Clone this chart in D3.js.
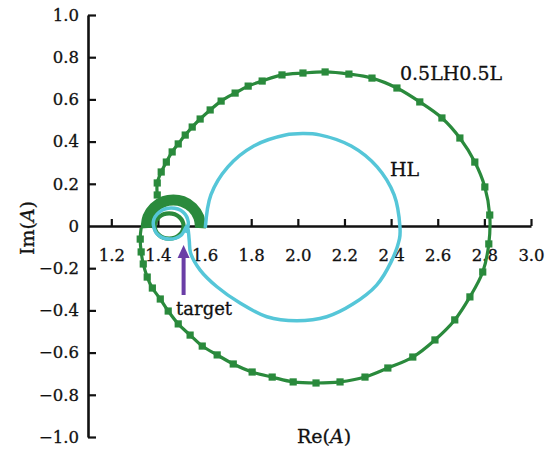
<!DOCTYPE html>
<html>
<head>
<meta charset="utf-8">
<script src="https://cdn.jsdelivr.net/npm/d3@7/dist/d3.min.js"></script>
<style>
  html, body { margin: 0; padding: 0; background: #fff; }
  svg text { font-family: "DejaVu Serif", serif; fill: #111; stroke: #111; stroke-width: 0.3px; }
</style>
</head>
<body>
<div id="chart"></div>
<script>
// ─── Data (complex-plane locus points) ───
const xTicks = [1.2, 1.4, 1.6, 1.8, 2.0, 2.2, 2.4, 2.6, 2.8, 3.0];
const yTicks = [-1.0, -0.8, -0.6, -0.4, -0.2, 0, 0.2, 0.4, 0.6, 0.8, 1.0];

// 0.5LH0.5L — large loop with square markers
const greenLoop = [
  [1.397, 0.147], [1.397, 0.204], [1.414, 0.256], [1.436, 0.303], [1.461, 0.351],
  [1.487, 0.389], [1.517, 0.431], [1.547, 0.469], [1.581, 0.507], [1.624, 0.550],
  [1.671, 0.592], [1.731, 0.630], [1.787, 0.663], [1.847, 0.687], [1.932, 0.716],
  [2.022, 0.725], [2.117, 0.730], [2.219, 0.720], [2.318, 0.701], [2.425, 0.654],
  [2.523, 0.588], [2.618, 0.512], [2.695, 0.417], [2.759, 0.303], [2.802, 0.185],
  [2.823, 0.052], [2.819, -0.085], [2.793, -0.218], [2.738, -0.336], [2.673, -0.445],
  [2.588, -0.540], [2.493, -0.621], [2.386, -0.673], [2.288, -0.716], [2.181, -0.739],
  [2.078, -0.744], [1.980, -0.739], [1.890, -0.716], [1.804, -0.692], [1.723, -0.654],
  [1.654, -0.611], [1.590, -0.569], [1.538, -0.517], [1.487, -0.464], [1.444, -0.403],
  [1.410, -0.346], [1.376, -0.294], [1.354, -0.242], [1.337, -0.180], [1.328, -0.123],
  [1.324, -0.062], [1.328, -0.009],
];
// 0.5LH0.5L — dense arc (markers overlap into a band)
const greenArc = [
  [1.350, -0.010], [1.350, 0.000], [1.357, 0.042], [1.384, 0.087], [1.426, 0.116],
  [1.466, 0.123], [1.506, 0.116], [1.548, 0.087], [1.575, 0.042], [1.582, 0.000],
  [1.582, -0.010],
];
// 0.5LH0.5L — small inner ring
const greenRing = [
  [1.510, 0.000], [1.492, 0.042], [1.448, 0.060], [1.404, 0.042],
  [1.386, 0.000], [1.404, -0.042], [1.448, -0.060], [1.492, -0.042],
];
// HL
const cyanLocus = [
  [1.521, -0.033], [1.530, 0.019], [1.508, 0.066], [1.457, 0.085], [1.406, 0.066],
  [1.380, 0.019], [1.397, -0.038], [1.448, -0.062], [1.500, -0.043], [1.525, 0.000],
  [1.534, -0.066], [1.540, -0.128], [1.581, -0.209], [1.653, -0.288], [1.752, -0.365],
  [1.867, -0.430], [1.995, -0.449], [2.124, -0.430], [2.236, -0.370], [2.338, -0.280],
  [2.400, -0.170], [2.436, -0.060], [2.438, -0.005], [2.413, 0.147], [2.340, 0.280],
  [2.229, 0.379], [2.093, 0.432], [2.020, 0.438], [1.947, 0.431], [1.811, 0.379],
  [1.700, 0.280], [1.627, 0.147], [1.603, -0.009],
];
// target arrow (tail → tip) and labels
const targetArrow = [[1.51, -0.327], [1.51, -0.09]];
const seriesLabels = [
  { text: "0.5LH0.5L", x: 2.438, y: 0.69 },
  { text: "HL", x: 2.395, y: 0.237 },
];
const targetLabel = { text: "target", x: 1.598, y: -0.42 };

const GREEN = "#2a8a3c";
const CYAN = "#55c6d8";
const PURPLE = "#6a3ea6";

// ─── Layout ───
const W = 553, H = 455;
const svg = d3.select("#chart").append("svg")
  .attr("width", W).attr("height", H);

const x = d3.scaleLinear().domain([1.1, 3.0]).range([88, 531]);
const y = d3.scaleLinear().domain([-1, 1]).range([437, 15]);

// ── Axes ──
const yAxis = svg.append("g")
  .attr("transform", `translate(${x(1.1)},0)`)
  .call(d3.axisLeft(y).tickValues(yTicks).tickSizeInner(-8).tickSizeOuter(0)
    .tickPadding(9).tickFormat((d) => (d === 0 ? "0" : d3.format(".1f")(d))));

const xAxis = svg.append("g")
  .attr("transform", `translate(0,${y(0)})`)
  .call(d3.axisBottom(x).tickValues(xTicks).tickSizeInner(-7).tickSizeOuter(0)
    .tickPadding(23).tickFormat(d3.format(".1f")));

[xAxis, yAxis].forEach((g) => {
  g.select(".domain").attr("stroke", "#111").attr("stroke-width", 2.6);
  g.selectAll(".tick line").attr("stroke", "#111").attr("stroke-width", 2.2);
  g.selectAll(".tick text").style("font-size", "16.5px").attr("fill", "#111");
});
yAxis.selectAll(".tick").filter((d) => d === 0).select("line").remove();

// ── Axis titles ──
const reTitle = svg.append("text")
  .attr("x", 324).attr("y", 443)
  .attr("text-anchor", "middle").style("font-size", "19px");
reTitle.append("tspan").text("Re(");
reTitle.append("tspan").style("font-style", "italic").text("A");
reTitle.append("tspan").text(")");

const imTitle = svg.append("text")
  .attr("transform", `translate(34,${y(0) + 2}) rotate(-90)`)
  .attr("text-anchor", "middle").style("font-size", "19px");
imTitle.append("tspan").text("Im(");
imTitle.append("tspan").style("font-style", "italic").text("A");
imTitle.append("tspan").text(")");

// ── Curves ──
const line = d3.line().x((d) => x(d[0])).y((d) => y(d[1]))
  .curve(d3.curveCatmullRom.alpha(0.5));
const ring = d3.line().x((d) => x(d[0])).y((d) => y(d[1]))
  .curve(d3.curveCatmullRomClosed.alpha(0.5));

svg.append("path").datum(greenLoop).attr("d", line)
  .attr("fill", "none").attr("stroke", GREEN).attr("stroke-width", 3.2);

svg.append("g").selectAll("rect").data(greenLoop.slice(0, -1)).join("rect")
  .attr("x", (d) => x(d[0]) - 3.6).attr("y", (d) => y(d[1]) - 3.6)
  .attr("width", 7.2).attr("height", 7.2).attr("fill", GREEN);

svg.append("path").datum(greenArc).attr("d", line)
  .attr("fill", "none").attr("stroke", GREEN).attr("stroke-width", 11);

svg.append("path").datum(greenRing).attr("d", ring)
  .attr("fill", "none").attr("stroke", GREEN).attr("stroke-width", 4.2);

svg.append("path").datum(cyanLocus).attr("d", line)
  .attr("fill", "none").attr("stroke", CYAN).attr("stroke-width", 3.5)
  .attr("stroke-linejoin", "round");

// ── Labels ──
svg.append("g").selectAll("text").data(seriesLabels).join("text")
  .attr("x", (d) => x(d.x)).attr("y", (d) => y(d.y))
  .style("font-size", "19px").text((d) => d.text);

svg.append("text")
  .attr("x", x(targetLabel.x)).attr("y", y(targetLabel.y))
  .attr("text-anchor", "middle").style("font-size", "18px").text(targetLabel.text);

// ── Target arrow ──
const [tail, tip] = targetArrow;
svg.append("line")
  .attr("x1", x(tail[0])).attr("y1", y(tail[1]))
  .attr("x2", x(tip[0])).attr("y2", y(tip[1]) + 10)
  .attr("stroke", PURPLE).attr("stroke-width", 4);
const tx = x(tip[0]), ty = y(tip[1]);
svg.append("path")
  .attr("d", `M${tx},${ty} L${tx + 6},${ty + 13} L${tx - 6},${ty + 13} Z`)
  .attr("fill", PURPLE);
</script>
</body>
</html>
